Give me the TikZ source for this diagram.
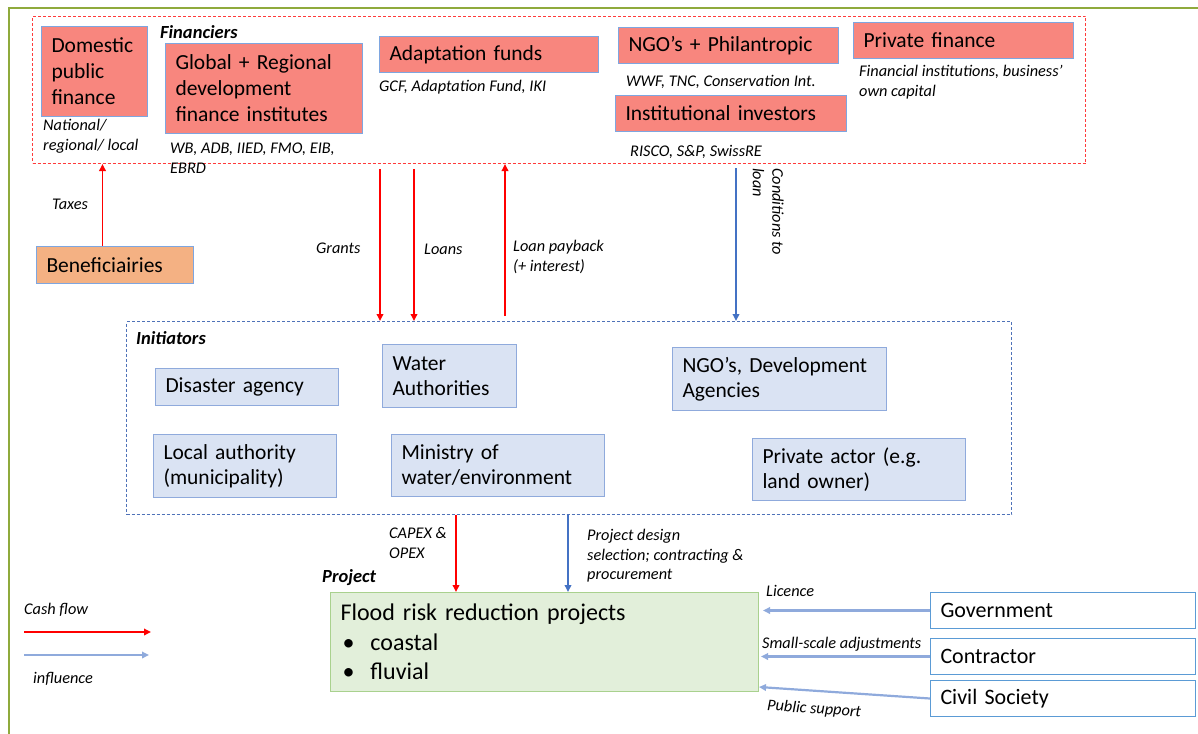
\documentclass[tikz,border=0pt]{standalone}
\usepackage{fontspec}
\setmainfont{Carlito}
\usetikzlibrary{arrows.meta,calc}
\definecolor{salm}{HTML}{F8867E}
\definecolor{benf}{HTML}{F4B183}
\definecolor{bblue}{HTML}{7EA6E0}
\definecolor{iblue}{HTML}{8FAADC}
\definecolor{ifill}{HTML}{DAE3F3}
\definecolor{gfill}{HTML}{E2EFDA}
\definecolor{gbord}{HTML}{A9D18E}
\definecolor{rbord}{HTML}{5B9BD5}
\definecolor{condblue}{HTML}{4472C4}
\definecolor{inflblue}{HTML}{8FAADC}
\definecolor{frameg}{HTML}{8FAA3C}
\definecolor{dashred}{HTML}{FF3B3B}
\definecolor{dashblue}{HTML}{4F72B8}
\begin{document}
\begin{tikzpicture}[x=1pt,y=-1pt,
  box/.style={draw=bblue, line width=1pt, inner xsep=10pt, inner ysep=2pt, anchor=north west, align=left},
  fbox/.style={box, fill=salm, font=\fontsize{21.5}{26}\selectfont},
  ibox/.style={box, draw=iblue, fill=ifill, font=\fontsize{21.5}{25}\selectfont},
  rbox/.style={box, draw=rbord, fill=white, font=\fontsize{22}{26}\selectfont},
  lab/.style={font=\itshape\fontsize{16.3}{19.5}\selectfont, inner sep=0pt, anchor=west, align=left},
  head/.style={font=\bfseries\itshape\fontsize{18.5}{20}\selectfont, inner sep=0pt, anchor=west},
  tip/.style={-{Triangle[length=7pt,width=6.5pt]}},
  cash/.style={draw=red, line width=1.8pt, tip},
  cond/.style={draw=condblue, line width=1.8pt, tip},
  infl/.style={draw=inflblue, line width=2.2pt, tip},
  grp/.style={line width=1pt, dash pattern=on 3pt off 2pt, anchor=north west, inner sep=0pt}
]
\useasboundingbox (0,0) rectangle (1198,733);
% outer frame
\draw[frameg, line width=2.5pt] (9,740) -- (9,8) -- (1205,8);

% group boxes
\node[grp, draw=dashred, minimum width=1053pt, minimum height=147pt] (fin) at (32,16) {};
\node[grp, draw=dashblue, minimum width=885pt, minimum height=193pt] (ini) at (126,321) {};

% financiers
\node[head] (finlab) at (160,32) {Financiers};
\node[fbox, minimum height=90pt, text width=86pt] (dom) at (41,26) {Domestic\\public\\finance};
\node[fbox, minimum height=90pt, text width=177pt] (gdf) at (165,43) {Global + Regional\\development\\finance institutes};
\node[fbox, minimum height=36pt, text width=199pt] (ada) at (379,36) {Adaptation funds};
\node[fbox, minimum height=36pt, text width=200pt] (ngo) at (618,27) {NGO’s + Philantropic};
\node[fbox, minimum height=36pt, text width=211pt] (inst) at (615,95) {Institutional investors};
\node[fbox, minimum height=36pt, text width=200pt] (priv) at (853,22) {Private finance};

\node[lab] (domlab) at (43,136) {National/\\regional/ local};
\node[lab] (gdflab) at (170,158) {WB, ADB, IIED, FMO, EIB,\\EBRD};
\node[lab] (adalab) at (379,87) {GCF, Adaptation Fund, IKI};
\node[lab] (ngolab) at (626,82) {WWF, TNC, Conservation Int.};
\node[lab] (instlab) at (630,152) {RISCO, S\&P, SwissRE};
\node[lab] (privlab) at (859,82) {Financial institutions, business’\\own capital};

% beneficiairies
\node[fbox, fill=benf, minimum height=37pt, text width=137pt] (ben) at (36,246) {Beneficiairies};
\draw[cash] ([xshift=-12.5pt]ben.north) -- ([xshift=-12.5pt]ben.north |- fin.south);
\node[lab] (taxlab) at (52,204) {Taxes};

% flows between financiers and initiators
\coordinate (gx) at (380,0);
\coordinate (lx) at (414,0);
\coordinate (px) at (505,0);
\coordinate (cx) at (736,0);
\draw[cash, shorten <=5pt] (fin.south -| gx) -- (ini.north -| gx);
\draw[cash, shorten <=5pt] (fin.south -| lx) -- (ini.north -| lx);
\draw[cash, shorten <=5pt] (ini.north -| px) -- (fin.south -| px);
\draw[cond, shorten <=4pt] (fin.south -| cx) -- (ini.north -| cx);
\node[lab] (grlab) at (316,248) {Grants};
\node[lab] (lolab) at (424,249) {Loans};
\node[lab] (pblab) at (513,257) {Loan payback\\(+ interest)};
\node[lab, rotate=-90, anchor=north west] (condlab) at (784,168) {Conditions to\\loan};

% initiators
\node[head] (inilab) at (136,338) {Initiators};
\node[ibox, minimum height=37pt, text width=163pt] (dis) at (155,368) {Disaster agency};
\node[ibox, minimum height=63pt, text width=114pt] (wat) at (382,344) {Water\\Authorities};
\node[ibox, minimum height=63pt, text width=194pt] (ngod) at (672,347) {NGO’s, Development\\Agencies};
\node[ibox, minimum height=63pt, text width=163pt] (loc) at (153,434) {Local authority\\(municipality)};
\node[ibox, minimum height=62pt, text width=193pt] (min) at (391,434) {Ministry of\\water/environment};
\node[ibox, minimum height=62pt, text width=193pt] (pri) at (752,438) {Private actor (e.g.\\land owner)};

% project
\node[box, draw=gbord, fill=gfill, minimum height=99pt, text width=408pt, font=\fontsize{24}{29.5}\selectfont] (flood) at (330,592)
  {Flood risk reduction projects\\\makebox[30pt][l]{\hspace{2pt}•}coastal\\\makebox[30pt][l]{\hspace{2pt}•}fluvial};
\node[head] (projlab) at (322,578) {Project};

\coordinate (kx) at (456,0);
\coordinate (dx) at (568,0);
\draw[cash] (ini.south -| kx) -- (flood.north -| kx);
\draw[cond] (ini.south -| dx) -- (flood.north -| dx);
\node[lab] (kxlab) at (389,543) {CAPEX \&\\OPEX};
\node[lab] (dxlab) at (587,556) {Project design\\selection; contracting \&\\procurement};

% external actors
\node[rbox, minimum height=36pt, text width=245pt] (gov) at (930,592) {Government};
\node[rbox, minimum height=36pt, text width=245pt] (con) at (930,638) {Contractor};
\node[rbox, minimum height=36pt, text width=245pt] (civ) at (930,680) {Civil Society};
\draw[infl, shorten >=4pt] (gov.west) -- (gov.west -| flood.east);
\draw[infl, shorten >=2pt] (con.west) -- (con.west -| flood.east);
\draw[infl] (civ.west) -- ($(flood.south east)+(0,-5)$);
\node[lab] (gvlab) at (766,591) {Licence};
\node[lab] (cnlab) at (762,644) {Small-scale adjustments};
\node[lab, rotate=-4] (cvlab) at (767,706) {Public support};

% legend
\node[lab] (cashlab) at (24,610) {Cash flow};
\coordinate (c1) at (24,632);
\coordinate (c2) at (151,632);
\coordinate (i1) at (24,655);
\coordinate (i2) at (149,655);
\draw[cash] (c1) -- (c2);
\draw[infl] (i1) -- (i2);
\node[lab] (inflab) at (33,679) {influence};
\end{tikzpicture}
\end{document}
